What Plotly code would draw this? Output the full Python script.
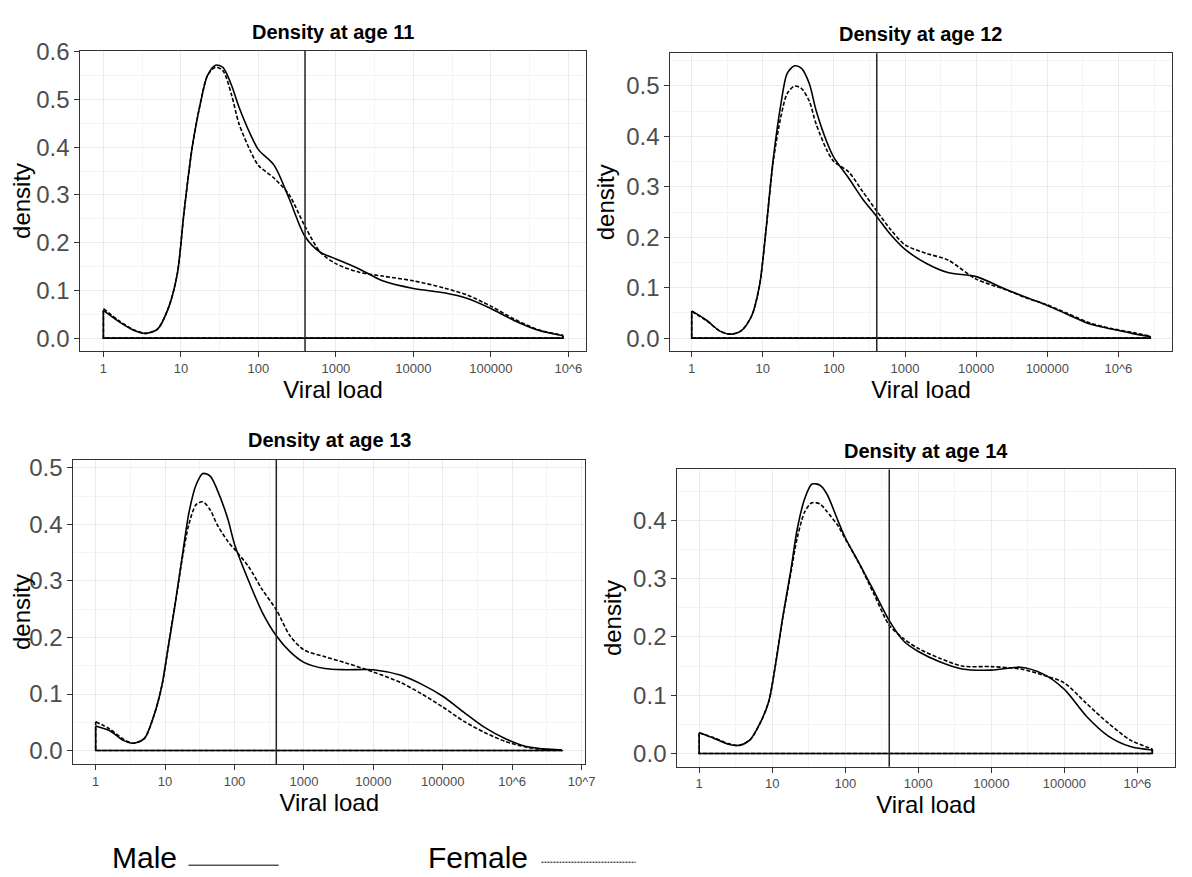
import plotly.graph_objects as go

# The page body has an 8px margin, so the figure is drawn 8px in from the
# top-left corner; sizes and positions below are given in window pixels.
W, H = 1192, 877
OFF = 8
FIG_W, FIG_H = W - OFF, H - OFF

# ---------------- data ----------------
THRESHOLD = 400  # vertical reference line (viral load)

VL_COMMON = [1, 1.6, 2.5, 3.5, 5, 7, 9, 11, 14, 18, 22, 28, 35, 45, 56, 80, 100,
             160, 250, 400, 630, 1000, 2000, 4000, 10000, 25000, 50000, 100000,
             200000, 400000]
VL_11 = VL_COMMON + [850000]
VL_12 = VL_COMMON + [800000, 1600000, 2800000]
VL_13 = VL_COMMON + [800000, 1600000, 2800000, 5200000]
VL_14 = VL_COMMON + [800000, 1600000]

MALE_11 = [0.058, 0.034, 0.016, 0.010, 0.019, 0.066, 0.135, 0.265, 0.40, 0.495,
           0.55, 0.572, 0.567, 0.53, 0.485, 0.425, 0.395, 0.362, 0.292, 0.213,
           0.18, 0.166, 0.145, 0.12, 0.104, 0.095, 0.083, 0.062, 0.037, 0.017,
           0.005]
FEMALE_11 = [0.062, 0.036, 0.017, 0.010, 0.019, 0.066, 0.135, 0.265, 0.40, 0.495,
             0.55, 0.568, 0.56, 0.51, 0.45, 0.39, 0.362, 0.335, 0.30, 0.234,
             0.18, 0.156, 0.138, 0.13, 0.12, 0.105, 0.09, 0.067, 0.04, 0.018,
             0.006]

MALE_12 = [0.054, 0.036, 0.014, 0.008, 0.015, 0.045, 0.105, 0.21, 0.355, 0.465,
           0.525, 0.54, 0.535, 0.505, 0.452, 0.388, 0.358, 0.318, 0.277, 0.241,
           0.205, 0.176, 0.148, 0.13, 0.122, 0.098, 0.081, 0.065, 0.046, 0.028,
           0.018, 0.009, 0.003]
FEMALE_12 = [0.053, 0.035, 0.014, 0.008, 0.015, 0.045, 0.105, 0.21, 0.35, 0.44,
             0.485, 0.50, 0.495, 0.47, 0.425, 0.372, 0.35, 0.33, 0.292, 0.252,
             0.215, 0.185, 0.168, 0.155, 0.117, 0.097, 0.08, 0.066, 0.048, 0.03,
             0.019, 0.011, 0.004]

MALE_13 = [0.0435, 0.035, 0.018, 0.013, 0.021, 0.064, 0.115, 0.18, 0.26, 0.35,
           0.42, 0.47, 0.49, 0.485, 0.462, 0.41, 0.365, 0.30, 0.245, 0.203,
           0.175, 0.156, 0.145, 0.143, 0.143, 0.133, 0.117, 0.096, 0.068, 0.041,
           0.021, 0.007, 0.003, 0.001]
FEMALE_13 = [0.051, 0.038, 0.02, 0.013, 0.021, 0.064, 0.115, 0.18, 0.26, 0.345,
             0.40, 0.435, 0.44, 0.425, 0.40, 0.37, 0.356, 0.325, 0.285, 0.249,
             0.203, 0.178, 0.166, 0.155, 0.139, 0.12, 0.1, 0.077, 0.052, 0.032,
             0.016, 0.006, 0.002, 0.001]

MALE_14 = [0.0355, 0.026, 0.016, 0.014, 0.024, 0.055, 0.09, 0.15, 0.235, 0.315,
           0.385, 0.438, 0.462, 0.46, 0.445, 0.398, 0.37, 0.323, 0.277, 0.228,
           0.193, 0.175, 0.157, 0.145, 0.143, 0.148, 0.137, 0.11, 0.064, 0.03,
           0.012, 0.006]
FEMALE_14 = [0.0355, 0.027, 0.017, 0.014, 0.024, 0.055, 0.09, 0.15, 0.235, 0.31,
             0.37, 0.415, 0.43, 0.428, 0.415, 0.39, 0.368, 0.322, 0.272, 0.22,
             0.197, 0.18, 0.163, 0.15, 0.149, 0.145, 0.135, 0.121, 0.086, 0.052,
             0.023, 0.008]

TITLES = ["Density at age 11", "Density at age 12", "Density at age 13", "Density at age 14"]
X_TICKS = [1, 10, 100, 1000, 10000, 100000, 1000000]
X_TICK_TEXT = ["1", "10", "100", "1000", "10000", "100000", "10^6"]
X_TICKS_13 = X_TICKS + [10000000]
X_TICK_TEXT_13 = X_TICK_TEXT + ["10^7"]
Y_TICKS_11 = [0.0, 0.1, 0.2, 0.3, 0.4, 0.5, 0.6]
Y_TICKS_12 = [0.0, 0.1, 0.2, 0.3, 0.4, 0.5]
Y_TICKS_13 = [0.0, 0.1, 0.2, 0.3, 0.4, 0.5]
Y_TICKS_14 = [0.0, 0.1, 0.2, 0.3, 0.4]
LEGEND_LABELS = ["Male", "Female"]

# ---------------- layout geometry (window pixels) ----------------
panels = [
    dict(title=TITLES[0], vl=VL_11, male=MALE_11, female=FEMALE_11,
         xt=X_TICKS, xtt=X_TICK_TEXT, yt=Y_TICKS_11,
         xr=[-0.297, 6.225], yr=[-0.027, 0.602],
         px=(81, 590.7), py=(38.3, 343), tpos=(335.5, 19)),
    dict(title=TITLES[1], vl=VL_12, male=MALE_12, female=FEMALE_12,
         xt=X_TICKS, xtt=X_TICK_TEXT, yt=Y_TICKS_12,
         xr=[-0.30, 6.75], yr=[-0.026, 0.565],
         px=(676, 1181.7), py=(40.7, 343.3), tpos=(928, 21.5)),
    dict(title=TITLES[2], vl=VL_13, male=MALE_13, female=FEMALE_13,
         xt=X_TICKS_13, xtt=X_TICK_TEXT_13, yt=Y_TICKS_13,
         xr=[-0.32, 7.05], yr=[-0.0245, 0.5145],
         px=(74, 590), py=(453.3, 762.7), tpos=(332, 433)),
    dict(title=TITLES[3], vl=VL_14, male=MALE_14, female=FEMALE_14,
         xt=X_TICKS, xtt=X_TICK_TEXT, yt=Y_TICKS_14,
         xr=[-0.30, 6.51], yr=[-0.0225, 0.487],
         px=(683, 1184.6), py=(463.3, 765), tpos=(934, 445)),
]

FONT = "Liberation Sans, Arial, Helvetica, sans-serif"
TICK_COLOR = "#4D4D4D"
BORDER = "#333333"
GRID = "#EBEBEB"
MINOR_GRID = "#F4F4F4"


def fx(p):
    return (p - OFF) / FIG_W


def fy(p):
    return 1 - (p - OFF) / FIG_H


fig = go.Figure()
layout = dict(
    width=FIG_W, height=FIG_H,
    margin=dict(l=0, r=0, t=0, b=0),
    paper_bgcolor="white", plot_bgcolor="white",
    showlegend=False,
    font=dict(family=FONT, color="black"),
    annotations=[], shapes=[],
)

for i, p in enumerate(panels):
    n = "" if i == 0 else str(i + 1)
    xa, ya = "x" + n, "y" + n
    vl = p["vl"]
    for ys, dash in ((p["male"], "solid"), (p["female"], "4px,2px")):
        # density curve
        fig.add_trace(go.Scatter(
            x=vl, y=ys, mode="lines", xaxis=xa, yaxis=ya,
            line=dict(color="black", width=1.6, dash=dash, shape="spline", smoothing=0.8),
            hoverinfo="skip"))
        # closing outline of the density polygon (ends down to zero + baseline)
        fig.add_trace(go.Scatter(
            x=[vl[-1], vl[-1], vl[0], vl[0]], y=[ys[-1], 0, 0, ys[0]],
            mode="lines", xaxis=xa, yaxis=ya,
            line=dict(color="black", width=1.6, dash=dash),
            hoverinfo="skip"))

    minor_x = [10 ** (k + 0.5) for k in range(-1, 8)]
    layout["xaxis" + n] = dict(
        domain=[fx(p["px"][0]), fx(p["px"][1])], anchor=ya,
        type="log", range=p["xr"],
        tickmode="array", tickvals=p["xt"], ticktext=p["xtt"],
        tickfont=dict(size=13, color=TICK_COLOR, family=FONT),
        ticks="outside", ticklen=5, tickwidth=1, tickcolor=BORDER,
        showline=True, mirror=True, linecolor=BORDER, linewidth=1,
        showgrid=True, gridcolor=GRID, gridwidth=1, zeroline=False,
        minor=dict(tickmode="array", tickvals=minor_x, showgrid=True,
                   gridcolor=MINOR_GRID, gridwidth=1, ticks=""),
        title=dict(text="Viral load", font=dict(size=24, color="black", family=FONT), standoff=0),
    )
    layout["yaxis" + n] = dict(
        domain=[fy(p["py"][1]), fy(p["py"][0])], anchor=xa,
        range=p["yr"], tickmode="array", tickvals=p["yt"], tickformat=".1f",
        tickfont=dict(size=24, color=TICK_COLOR, family=FONT),
        ticks="outside", ticklen=5, tickwidth=1, tickcolor=BORDER,
        showline=True, mirror=True, linecolor=BORDER, linewidth=1,
        showgrid=True, gridcolor=GRID, gridwidth=1, zeroline=False,
        minor=dict(dtick=0.05, showgrid=True, gridcolor=MINOR_GRID, gridwidth=1, ticks=""),
        title=dict(text="density", font=dict(size=24, color="black", family=FONT), standoff=4),
    )
    # threshold line (data value on the log axis)
    layout["shapes"].append(dict(
        type="line", xref=xa, yref=ya + " domain",
        x0=THRESHOLD, x1=THRESHOLD, y0=0, y1=1,
        line=dict(color="#222222", width=1.5)))
    # panel title
    layout["annotations"].append(dict(
        text="<b>%s</b>" % p["title"], xref="paper", yref="paper",
        x=fx(p["tpos"][0]), y=fy(p["tpos"][1]), xanchor="center", yanchor="middle",
        showarrow=False, font=dict(size=20, color="black", family=FONT)))

# custom legend at the bottom
layout["annotations"].append(dict(
    text=LEGEND_LABELS[0], xref="paper", yref="paper", x=fx(111), y=fy(857),
    xanchor="left", yanchor="middle", showarrow=False,
    font=dict(size=30, color="black", family=FONT)))
layout["annotations"].append(dict(
    text=LEGEND_LABELS[1], xref="paper", yref="paper", x=fx(430), y=fy(857),
    xanchor="left", yanchor="middle", showarrow=False,
    font=dict(size=30, color="black", family=FONT)))
layout["shapes"].append(dict(
    type="line", xref="paper", yref="paper",
    x0=fx(190), x1=fx(281), y0=fy(865), y1=fy(865),
    line=dict(color="black", width=1)))
layout["shapes"].append(dict(
    type="line", xref="paper", yref="paper",
    x0=fx(546), x1=fx(641), y0=fy(862), y1=fy(862),
    line=dict(color="black", width=1, dash="2px,1px")))

fig.update_layout(**layout)
fig.write_html("out.html")
